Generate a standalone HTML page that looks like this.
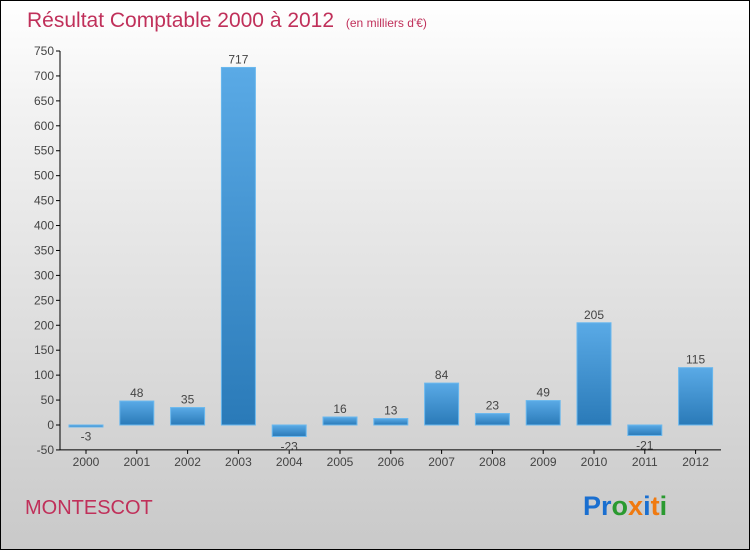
<!DOCTYPE html>
<html><head><meta charset="utf-8"><style>
body{margin:0}
#c{width:750px;height:550px;position:relative;overflow:hidden;box-sizing:border-box;border:1px solid #000;background:linear-gradient(#ffffff,#f2f2f2 20%,#c9c9c9);font-family:"Liberation Sans",sans-serif}
</style></head><body>
<div id="c">
<svg id="s" width="750" height="550" style="position:absolute;left:-1px;top:-1px">
<defs><linearGradient id="g" x1="0" y1="0" x2="0" y2="1"><stop offset="0" stop-color="#5aaae6"/><stop offset="1" stop-color="#2a7ab8"/></linearGradient></defs>
<text x="27" y="27" font-size="21" fill="#c0305a">Résultat Comptable 2000 à 2012 <tspan font-size="12" dx="6">(en milliers d'€)</tspan></text>
<text x="25" y="514" font-size="20" fill="#c0305a">MONTESCOT</text>
<text x="583" y="515" font-size="27" font-weight="bold"><tspan fill="#1a6fd0">Pr</tspan><tspan fill="#2a9a30">o</tspan><tspan fill="#f07a10">x</tspan><tspan fill="#1a6fd0">i</tspan><tspan fill="#f07a10">t</tspan><tspan fill="#2a9a30">i</tspan></text>
<g id="plot"></g>
</svg>
</div>
<script>
const categories=["2000","2001","2002","2003","2004","2005","2006","2007","2008","2009","2010","2011","2012"];
const values=[-3,48,35,717,-23,16,13,84,23,49,205,-21,115];
const yTicks=[-50,0,50,100,150,200,250,300,350,400,450,500,550,600,650,700,750];
const y=v=>425-(v)*(374/750);
const x=i=>86+i*50.8;
const ns="http://www.w3.org/2000/svg";
const g=document.getElementById('plot');
function mk(t,a,txt){const e=document.createElementNS(ns,t);for(const k in a)e.setAttribute(k,a[k]);if(txt!=null)e.textContent=txt;g.appendChild(e);return e;}
let ax=mk('line',{x1:60,y1:y(-50),x2:60,y2:y(750),stroke:'#000'});


let bx=mk('line',{x1:60,y1:y(-50),x2:721,y2:y(-50),stroke:'#000'});


yTicks.forEach(v=>{
 const l=mk('line',{x1:56,x2:60,y1:y(v),y2:y(v),stroke:'#000'});
 
 
 const t=mk('text',{x:54,y:y(v)+4,'text-anchor':'end','font-size':12,fill:'#444'},v);
 
 
});
categories.forEach((c,i)=>{
 const cx=x(i),v=values[i];
 const l=mk('line',{x1:cx,x2:cx,y1:y(-50),y2:y(-50)+4,stroke:'#000'});
 
 
 const t=mk('text',{x:cx,y:466,'text-anchor':'middle','font-size':12,fill:'#444'},c);
 
 
 const top=Math.min(y(v),y(0)),h=Math.max(Math.abs(y(v)-y(0)),2);
 const r=mk('rect',{x:cx-17,y:top,width:34,height:h,fill:'url(#g)',stroke:'#6ab8ee','stroke-width':1});
 
 
 const ly=v>=0?y(v)-4:y(v)+14;
 const vl=mk('text',{x:cx,y:ly,'text-anchor':'middle','font-size':12,fill:'#444'},v);
 
 
});
</script>
</body></html>
